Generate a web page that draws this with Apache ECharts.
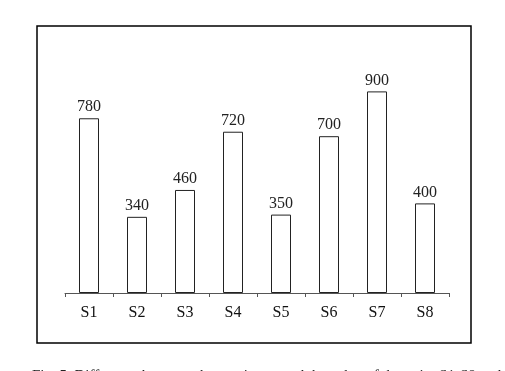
<!DOCTYPE html>
<html>
<head>
<meta charset="utf-8">
<script src="https://cdn.jsdelivr.net/npm/echarts@6/dist/echarts.min.js"></script>
<style>
html,body{margin:0;padding:0;background:#fff;}
#c{width:505px;height:371px;}
</style>
</head>
<body>
<div id="c"></div>
<script>
var categories = ['S1','S2','S3','S4','S5','S6','S7','S8'];
var values = [780, 340, 460, 720, 350, 700, 900, 400];
var captionText = 'Fig. 5  Difference between the maximum and the value of the point S1-S8 and the model';

var chart = echarts.init(document.getElementById('c'));
chart.setOption({
  animation: false,
  backgroundColor: '#fff',
  grid: {left: 65, right: 56, top: 69, bottom: 78},
  xAxis: {
    type: 'category',
    data: categories,
    axisLine: {lineStyle: {color: '#555', width: 1}},
    axisTick: {show: true, length: 4, lineStyle: {color: '#555'}},
    axisLabel: {color: '#111', fontFamily: 'Liberation Serif', fontSize: 16, margin: 12}
  },
  yAxis: {
    type: 'value', min: 0, max: 1000, show: false,
    splitLine: {show: false}
  },
  series: [{
    type: 'bar',
    data: values,
    barWidth: 20,
    itemStyle: {color: '#fff', borderColor: '#222', borderWidth: 1},
    label: {show: true, position: 'top', distance: 3, color: '#222', fontFamily: 'Liberation Serif', fontSize: 16}
  }],
  graphic: [
    {type: 'rect', shape: {x: 37, y: 26, width: 434, height: 317}, style: {fill: 'none', stroke: '#000', lineWidth: 1.5}, z: 10},
    {type: 'text', left: 32, top: 369, style: {text: captionText, font: '15px "Liberation Serif"', fill: '#222'}}
  ]
});
</script>
</body>
</html>
